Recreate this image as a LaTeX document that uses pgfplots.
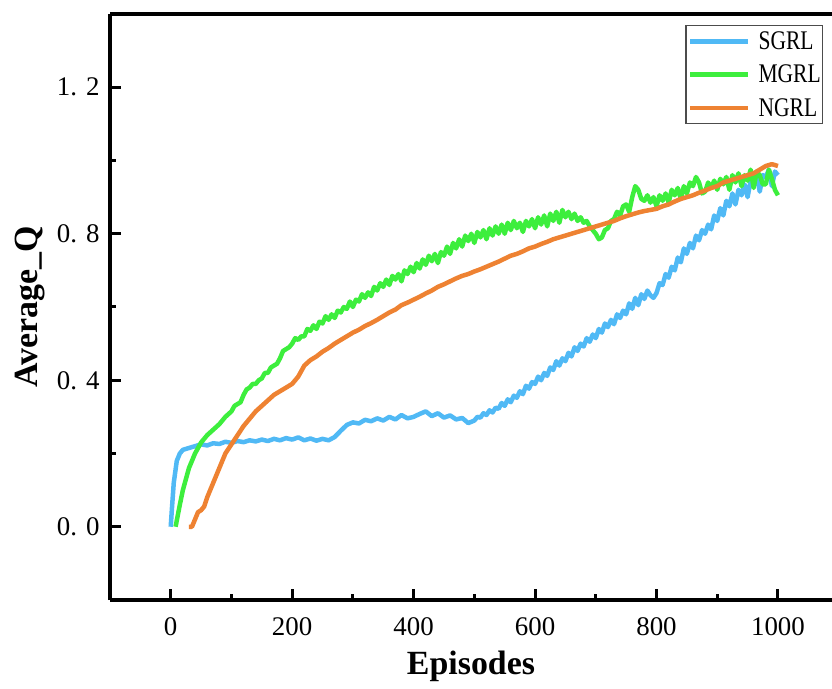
\documentclass[border=0pt]{standalone}
\usepackage{pgfplots}
\pgfplotsset{compat=1.18}
\usepackage{fontspec}
\setmainfont{Liberation Serif}
\newfontfamily\condfont[FakeStretch=0.8]{Liberation Serif}
\newcommand{\legfont}{\condfont\fontsize{27}{27}\selectfont}
\definecolor{cblue}{RGB}{80,185,245}
\definecolor{cgreen}{RGB}{61,238,61}
\definecolor{corange}{RGB}{238,130,50}
\begin{document}
\begin{tikzpicture}
\begin{axis}[
  name=ax,
  scale only axis,
  width=722bp, height=586bp,
  xmin=-100, xmax=1089,
  ymin=-0.2, ymax=1.4,
  axis lines=left,
  axis line style={-, line width=3.5bp},
  xtick={0,200,400,600,800,1000},
  ytick={0,0.4,0.8,1.2},
  yticklabels={{0. 0},{0. 4},{0. 8},{1. 2}},
  minor x tick num=1,
  minor y tick num=1,
  tick align=inside,
  major tick length=11bp,
  minor tick length=6bp,
  every tick/.style={black, line width=3bp},
  /pgf/number format/assume math mode=true,
  /pgf/number format/1000 sep={},
  tick label style={font=\fontsize{27}{27}\selectfont},
  xticklabel style={yshift=-14bp},
  yticklabel style={xshift=-7bp},
  xlabel={\textbf{Episodes}},
  ylabel={\textbf{Average\_Q}},
  label style={font=\fontsize{34}{34}\selectfont},
  xlabel style={yshift=-8bp},
  ylabel style={yshift=5bp},
  legend style={at={(rel axis cs:0.988,0.981)}, anchor=north east,
    draw=black!70, line width=1.2bp, font=\legfont,
    inner sep=2bp, row sep=6bp, column sep=8bp,
    nodes={font=\legfont, inner xsep=0bp, inner ysep=4bp}},
  legend cell align=left,
  legend image code/.code={\draw[#1, line width=4.5bp] (0bp,0bp) -- (58bp,0bp);},
  every axis plot/.append style={line width=4.5bp, line join=round},
]
\addplot[cblue] coordinates {
(0,0.00)(2,0.05)(5,0.12)(10,0.18)(15,0.20)(20,0.21)(30,0.215)(40,0.22)(50,0.225)(60,0.222)(70,0.228)(80,0.226)(90,0.232)(100,0.229)(110,0.234)(120,0.231)(130,0.236)(140,0.233)(150,0.238)(160,0.234)(170,0.240)(180,0.236)(190,0.242)(200,0.238)(210,0.244)(220,0.236)(230,0.241)(240,0.235)(250,0.240)(260,0.236)(270,0.245)(280,0.262)(290,0.278)(300,0.285)(310,0.282)(320,0.292)(330,0.288)(340,0.296)(350,0.290)(360,0.300)(370,0.293)(380,0.305)(390,0.296)(400,0.300)(410,0.308)(420,0.315)(430,0.302)(440,0.310)(450,0.298)(460,0.304)(470,0.293)(480,0.297)(490,0.283)
(500,0.290)(505,0.30)(510,0.298)(515,0.31)(520,0.305)(525,0.318)(530,0.312)(535,0.325)(540,0.322)(545,0.338)(550,0.330)(555,0.348)(560,0.340)(565,0.358)(570,0.352)(575,0.37)(580,0.362)(585,0.385)(590,0.377)(595,0.395)(600,0.390)(605,0.41)(610,0.400)(615,0.42)(620,0.412)(625,0.435)(630,0.428)(635,0.452)(640,0.440)(645,0.46)(650,0.452)(655,0.475)(660,0.465)(665,0.49)(670,0.480)(675,0.50)(680,0.492)(685,0.515)(690,0.505)(695,0.525)(700,0.515)(705,0.54)(710,0.530)(715,0.555)(720,0.545)(725,0.565)(730,0.553)(735,0.58)(740,0.570)(745,0.59)(750,0.580)(755,0.61)(760,0.595)(765,0.625)(770,0.605)(775,0.635)(780,0.622)(785,0.645)(790,0.632)(795,0.625)(800,0.638)(805,0.665)(810,0.660)(815,0.69)(820,0.680)(825,0.71)(830,0.700)(835,0.735)(840,0.722)(845,0.76)(850,0.745)(855,0.775)(860,0.760)(865,0.795)(870,0.782)(875,0.81)(880,0.800)(885,0.825)(890,0.812)(895,0.85)(900,0.835)(905,0.87)(910,0.850)(915,0.89)(920,0.875)(925,0.91)(930,0.880)(935,0.92)(940,0.905)(945,0.935)(950,0.900)(955,0.945)(960,0.930)(965,0.965)(970,0.915)(975,0.96)(980,0.955)(985,0.975)(990,0.930)(995,0.97)(1000,0.960)
};
\addlegendentry{SGRL}
\addplot[cgreen] coordinates {
(8,0.0)(15,0.06)(20,0.10)(30,0.16)(40,0.20)(50,0.23)(60,0.25)(70,0.265)(80,0.28)(90,0.30)
(100,0.315)(105,0.33)(110,0.335)(115,0.34)(120,0.36)(125,0.375)(130,0.38)(135,0.39)(140,0.39)(145,0.40)(150,0.405)(155,0.42)(160,0.42)(165,0.435)(170,0.44)(175,0.445)(180,0.46)(185,0.48)(190,0.485)(195,0.49)(200,0.50)(205,0.515)(210,0.51)(215,0.52)(220,0.52)(225,0.54)(230,0.535)(235,0.55)(240,0.54)(245,0.56)(250,0.555)(255,0.575)(260,0.565)(265,0.58)(270,0.57)(275,0.59)(280,0.585)(285,0.60)(290,0.595)(295,0.615)(300,0.60)(305,0.62)(310,0.615)(315,0.635)(320,0.625)(325,0.64)(330,0.63)(335,0.655)(340,0.645)(345,0.665)(350,0.655)(355,0.675)(360,0.66)(365,0.685)(370,0.675)(375,0.69)(380,0.67)(385,0.70)(390,0.69)(395,0.71)(400,0.695)(405,0.72)(410,0.705)(415,0.73)(420,0.715)(425,0.74)(430,0.725)(435,0.745)(440,0.72)(445,0.75)(450,0.74)(455,0.765)(460,0.745)(465,0.775)(470,0.76)(475,0.785)(480,0.765)(485,0.795)(490,0.78)(495,0.80)(500,0.775)(505,0.805)(510,0.79)(515,0.81)(520,0.785)(525,0.815)(530,0.795)(535,0.82)(540,0.80)(545,0.825)(550,0.80)(555,0.83)(560,0.81)(565,0.835)(570,0.815)(575,0.83)(580,0.805)(585,0.835)(590,0.82)(595,0.84)(600,0.815)(605,0.845)(610,0.825)(615,0.85)(620,0.82)(625,0.855)(630,0.835)(635,0.86)(640,0.83)(645,0.865)(650,0.845)(655,0.86)(660,0.84)(665,0.855)(670,0.835)(675,0.845)(680,0.83)(685,0.835)(690,0.82)(695,0.81)(700,0.80)(705,0.785)(710,0.79)(715,0.81)(720,0.815)(725,0.835)(730,0.84)(735,0.86)(740,0.85)(745,0.875)(750,0.88)(755,0.86)(760,0.90)(765,0.93)(770,0.92)(775,0.895)(780,0.89)(785,0.905)(790,0.885)(795,0.90)(800,0.875)(805,0.905)(810,0.89)(815,0.91)(820,0.885)(825,0.92)(830,0.905)(835,0.925)(840,0.895)(845,0.93)(850,0.91)(855,0.94)(860,0.93)(865,0.955)(870,0.94)(875,0.91)(880,0.915)(885,0.94)(890,0.925)(895,0.945)(900,0.92)(905,0.95)(910,0.935)(915,0.955)(920,0.92)(925,0.96)(930,0.94)(935,0.965)(940,0.93)(945,0.96)(950,0.945)(955,0.975)(960,0.925)(965,0.97)(970,0.96)(975,0.935)(980,0.935)(985,0.975)(990,0.95)(995,0.92)(1000,0.905)
};
\addlegendentry{MGRL}
\addplot[corange] coordinates {
(30,0.0)(35,0.0)(40,0.02)(45,0.04)(50,0.045)(55,0.055)(60,0.08)(70,0.12)(80,0.16)(90,0.20)(100,0.225)(110,0.25)(120,0.275)(130,0.295)(140,0.315)(150,0.33)(160,0.345)(170,0.36)(180,0.37)(190,0.38)(200,0.39)(210,0.41)(220,0.44)(230,0.455)(240,0.465)(250,0.478)(260,0.488)(270,0.50)(280,0.51)(290,0.52)(300,0.53)(310,0.538)(320,0.548)(330,0.556)(340,0.565)(350,0.575)(360,0.585)(370,0.593)(380,0.605)(390,0.612)(400,0.62)(410,0.628)(420,0.637)(430,0.645)(440,0.655)(450,0.662)(460,0.67)(470,0.678)(480,0.685)(490,0.69)(500,0.697)(510,0.703)(520,0.71)(530,0.717)(540,0.724)(550,0.732)(560,0.74)(570,0.745)(580,0.752)(590,0.76)(600,0.765)(610,0.772)(620,0.778)(630,0.785)(640,0.79)(650,0.795)(660,0.80)(670,0.805)(680,0.81)(690,0.815)(700,0.82)(710,0.825)(720,0.83)(730,0.835)(740,0.842)(750,0.848)(760,0.853)(770,0.858)(780,0.862)(790,0.865)(800,0.868)(810,0.875)(820,0.88)(830,0.888)(840,0.895)(850,0.90)(860,0.905)(870,0.912)(880,0.918)(890,0.925)(900,0.93)(910,0.94)(920,0.945)(930,0.95)(940,0.955)(950,0.96)(960,0.965)(970,0.975)(980,0.985)(990,0.99)(1000,0.985)
};
\addlegendentry{NGRL}
\end{axis}
\draw[line width=3.5bp] (ax.north west) -- (ax.north east);
\pgfresetboundingbox
\path ([xshift=-110bp,yshift=-89bp]ax.south west) rectangle ([yshift=14bp]ax.north east);
\end{tikzpicture}
\end{document}
